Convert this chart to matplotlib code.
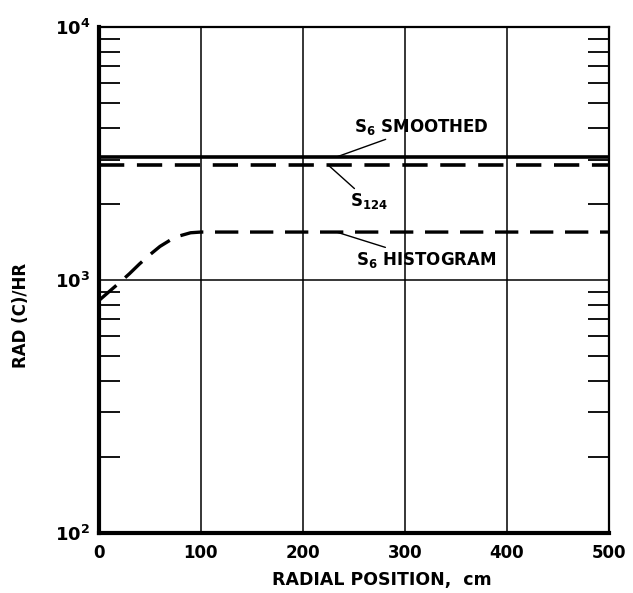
import matplotlib.pyplot as plt
import numpy as np
from matplotlib.ticker import LogLocator, NullFormatter, FixedLocator

# data
x_flat = [0, 500]
s6_smoothed = [3060, 3060]
s124 = [2850, 2850]
hist_x = [0, 10, 20, 30, 40, 50, 60, 70, 80, 90, 100, 500]
hist_y = [830, 900, 975, 1060, 1160, 1260, 1360, 1440, 1500, 1540, 1550, 1550]

x_ticks = [0, 100, 200, 300, 400, 500]
y_ticks = [1e2, 1e3, 1e4]
y_tick_labels = ["$\\mathbf{10^2}$", "$\\mathbf{10^3}$", "$\\mathbf{10^4}$"]

plt.rcParams['font.family'] = ['DejaVu Sans']
plt.rcParams['mathtext.fontset'] = 'dejavusans'

fig = plt.figure(figsize=(6.33, 5.93), dpi=100)
ax = fig.add_axes([0.156, 0.101, 0.806, 0.853])

ax.set_yscale('log')
ax.set_xlim(0, 500)
ax.set_ylim(1e2, 1e4)

# grid
for xv in [100, 200, 300, 400]:
    ax.axvline(xv, color='k', lw=1.1, zorder=1)
ax.axhline(1e3, color='k', lw=1.1, zorder=1)

# curves
ax.plot(x_flat, s6_smoothed, color='k', lw=2.6, solid_capstyle='butt', zorder=3)
ax.plot(x_flat, s124, color='k', lw=2.6, dashes=(7, 3.5), zorder=3)
ax.plot(hist_x, hist_y, color='k', lw=2.4, dashes=(7, 3.5), zorder=3)

# ticks
ax.xaxis.set_major_locator(FixedLocator(x_ticks))
ax.set_xticklabels([str(v) for v in x_ticks], fontsize=12, fontweight='bold')
ax.tick_params(axis='x', length=0, pad=8)
ax.yaxis.set_major_locator(FixedLocator(y_ticks))
ax.set_yticklabels(y_tick_labels, fontsize=13)
ax.yaxis.set_minor_locator(LogLocator(base=10, subs=np.arange(2, 10)))
ax.yaxis.set_minor_formatter(NullFormatter())
ax.tick_params(axis='y', which='major', length=0, pad=6)
ax.tick_params(axis='y', which='minor', direction='in', length=15, width=1.3,
               left=True, right=True)

for side, w in [('left', 3), ('bottom', 3), ('top', 1.6), ('right', 1.6)]:
    ax.spines[side].set_linewidth(w)

ax.set_xlabel("RADIAL POSITION,  cm", fontsize=12.5, fontweight='bold', va='center')
ax.set_ylabel("RAD (C)/HR", fontsize=12, fontweight='bold', va='center')
ax.xaxis.set_label_coords(0.555, -0.093)
ax.yaxis.set_label_coords(-0.153, 0.431)

# labels with leader lines
kw = dict(fontsize=12, fontweight='bold', ha='left', va='center',
          arrowprops=dict(arrowstyle='-', color='k', lw=1.0, shrinkA=0, shrinkB=0))
ax.annotate("S$_\\mathbf{6}$ SMOOTHED", xy=(232, 3060), xytext=(250, 4050), **kw)
ax.annotate("S$_\\mathbf{124}$", xy=(225, 2850), xytext=(246, 2050), **kw)
ax.annotate("S$_\\mathbf{6}$ HISTOGRAM", xy=(233, 1550), xytext=(252, 1200), **kw)

fig.savefig("out.png", dpi=100)
